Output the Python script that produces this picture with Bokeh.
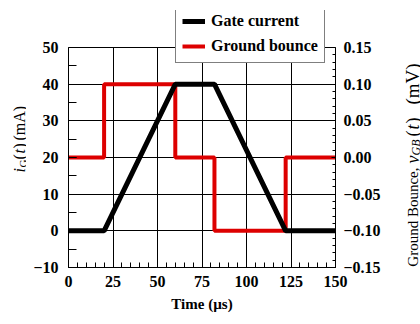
import numpy as np
from math import pi
from bokeh.plotting import figure
from bokeh.layouts import row
from bokeh.models import (Range1d, LinearAxis, Legend, LegendItem, FixedTicker,
                          CustomJSTickFormatter, Label)
from bokeh.embed import file_html
from bokeh.resources import INLINE

# ---- data ----
gate_time = [0, 20, 60, 82, 122, 150]
gate_current = [0, 0, 40, 40, 0, 0]              # mA
bounce_time = [0, 20, 60, 82, 122, 150]
bounce_level = [0.0, 0.10, 0.0, -0.10, 0.0, 0.0]  # mV, held after each time

x_ticks = [0, 25, 50, 75, 100, 125, 150]
y_ticks = [-10, 0, 10, 20, 30, 40, 50]
y2_ticks = [-0.15, -0.10, -0.05, 0.0, 0.05, 0.10, 0.15]

FONT = "Liberation Serif"
RED = "#dd0000"

H = 324
LW, MW, RW = 26, 362, 32          # left label strip, main plot, right label strip
FL, FR, FT, FB = 68, 335, 47, 267  # frame edges in page pixels (plot box)
TOP = 10                           # frame extended upward so the legend can overlap

px_unit = (FB - FT) / 60.0
y_top = 50 + (FT - TOP) / px_unit
y2_top = 0.15 + (FT - TOP) / px_unit * (0.30 / 60.0)

p = figure(width=MW, height=H, x_range=Range1d(0, 150), y_range=Range1d(-10, y_top),
           output_backend="svg", toolbar_location=None,
           min_border_left=FL - LW, min_border_right=(LW + MW) - FR,
           min_border_top=TOP, min_border_bottom=H - FB)
p.extra_y_ranges = {"gb": Range1d(-0.15, y2_top)}
p.background_fill_color = "white"
p.border_fill_color = "white"
p.outline_line_color = None

rb = p.step(bounce_time, bounce_level, mode="after", line_color=RED, line_width=4,
            y_range_name="gb")
rg = p.line(gate_time, gate_current, line_color="black", line_width=5)

xa = p.xaxis[0]
xa.ticker = FixedTicker(ticks=x_ticks, minor_ticks=list(np.arange(0, 151, 5)))
ya = p.yaxis[0]
ya.ticker = FixedTicker(ticks=y_ticks, minor_ticks=list(np.arange(-10, 51, 5)))
ya.formatter = CustomJSTickFormatter(code="return String(tick).replace('-', '\u2212')")
ya.bounds = (-10, 50)

ra = LinearAxis(y_range_name="gb")
ra.ticker = FixedTicker(ticks=y2_ticks,
                        minor_ticks=list(np.round(np.arange(-0.15, 0.1501, 0.01), 3)))
ra.formatter = CustomJSTickFormatter(
    code="if (Math.abs(tick) < 1e-9) return '0.00'; return tick.toFixed(2).replace('-', '\u2212');")
ra.bounds = (-0.15, 0.15)
p.add_layout(ra, "right")

for ax in (xa, ya, ra):
    ax.axis_line_color = "black"
    ax.major_tick_line_color = "black"
    ax.minor_tick_line_color = "black"
    ax.major_tick_out = 0
    ax.minor_tick_out = 0
    ax.major_label_text_font = FONT
    ax.major_label_text_font_style = "bold"
    ax.major_label_text_font_size = "16px"
    ax.major_label_text_color = "black"
    ax.axis_label = None

xa.major_tick_in = 5
xa.minor_tick_in = 5
xa.major_label_standoff = 8
xa.axis_label = "Time (\u00b5s)"
xa.axis_label_text_font = FONT
xa.axis_label_text_font_style = "bold"
xa.axis_label_text_font_size = "15px"
xa.axis_label_text_color = "black"
xa.axis_label_standoff = 6

ya.major_tick_in = 8
ya.minor_tick_in = 8
ya.major_label_standoff = 10

ra.major_tick_in = 4
ra.minor_tick_in = 3
ra.major_label_standoff = 8

p.xgrid.grid_line_color = "black"
p.xgrid.grid_line_width = 1
p.xgrid.cross_bounds = (-10, 50)
p.ygrid.grid_line_color = "black"
p.ygrid.grid_line_width = 1

legend = Legend(items=[LegendItem(label="Gate current", renderers=[rg]),
                       LegendItem(label="Ground bounce", renderers=[rb])],
                location=(175 - FL, FB - 63))
legend.label_text_font = FONT
legend.label_text_font_style = "bold"
legend.label_text_font_size = "16px"
legend.label_text_color = "black"
legend.border_line_color = "black"
legend.border_line_width = 1
legend.background_fill_color = "white"
legend.background_fill_alpha = 1
legend.glyph_width = 23
legend.glyph_height = 20
legend.label_height = 20
legend.label_standoff = 6
legend.spacing = 5
legend.padding = 6
legend.margin = 0
p.add_layout(legend)


def strip(width):
    # the row aligns this strip's frame with the main frame (TOP .. FB),
    # so the y range is set so that y = H - page_pixel
    f = figure(width=width, height=H, x_range=Range1d(0, width),
               y_range=Range1d(H - FB, H - TOP),
               output_backend="svg", toolbar_location=None, min_border=0,
               x_axis_type=None, y_axis_type=None)
    f.outline_line_color = None
    f.background_fill_color = "white"
    f.border_fill_color = "white"
    return f


def piece(f, x, py, txt, style="normal", size=15, align="left"):
    # text rotated 90 deg counter-clockwise (reads bottom to top); x is the baseline
    f.add_layout(Label(x=x, y=H - py, text=txt, angle=pi / 2,
                       text_font=FONT, text_font_style=style,
                       text_font_size=f"{size}px", text_color="black",
                       text_align=align, text_baseline="alphabetic"))


left = strip(LW)
bx = 19
piece(left, bx, 172, "i", "italic", 16)
piece(left, bx + 3, 167, "G", "normal", 11)
piece(left, bx, 159, "(", "normal", 16)
piece(left, bx, 153, "t", "italic", 16)
piece(left, bx, 148, ")", "normal", 16)
piece(left, bx, 140, "(mA)", "normal", 16)

right = strip(RW)
rx = 412 - (LW + MW)
piece(right, rx, 167, "Ground Bounce,", "normal", 15, align="right")
piece(right, rx, 163, "v", "italic", 18)
piece(right, rx + 3, 155, "GB", "italic", 12)
piece(right, rx, 136, "(", "normal", 18)
piece(right, rx, 129, "t", "italic", 18)
piece(right, rx, 123, ")", "normal", 18)
piece(right, rx, 104, "(mV)", "normal", 19)

layout = row(left, p, right, spacing=0)
open("out.html", "w").write(file_html(layout, INLINE))
